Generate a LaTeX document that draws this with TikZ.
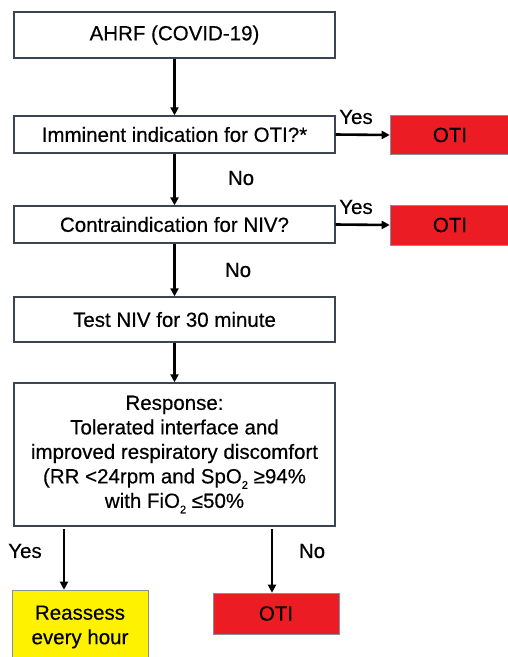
\documentclass[tikz,border=0pt]{standalone}
\usepackage{fontspec}
\setmainfont{Liberation Sans}[FakeBold=0.4]
\usetikzlibrary{arrows.meta}
\definecolor{boxline}{HTML}{3A4452}
\definecolor{otired}{HTML}{EB1C24}
\definecolor{reyellow}{HTML}{FFF200}
\newcommand{\sbt}[1]{\raisebox{-0.5ex}{\fontsize{11}{11}\selectfont #1}}
\begin{document}
\begin{tikzpicture}[x=1pt,y=-1pt,
  every node/.style={font=\fontsize{20.5}{24.5}\selectfont},
  box/.style={draw=boxline, line width=1.3pt, fill=white, inner sep=0pt,
    minimum width=321pt, align=center},
  redbox/.style={draw=boxline!60, line width=0.6pt, fill=otired, inner sep=0pt, align=center},
  yelbox/.style={draw=boxline!60, line width=0.6pt, fill=reyellow, inner sep=0pt, align=center},
  conn/.style={line width=2.6pt, -{Triangle[length=8pt,width=8pt]}},
  lbl/.style={inner sep=0pt}]
\useasboundingbox (0,0) rectangle (508,657);
\fill[white] (0,0) rectangle (508,657);
% main column
\node[box, minimum height=46pt] (ahrf) at (174.5,35) {AHRF (COVID-19)};
\node[box, minimum height=37pt] (imm) at (174.5,134.5) {Imminent indication for OTI?*};
\node[box, minimum height=37pt] (contra) at (174.5,224.5) {Contraindication for NIV?};
\node[box, minimum height=45pt] (test) at (174.5,319.5) {Test NIV for 30 minute};
\node[box, minimum height=143pt] (resp) at (174.5,454.5) {Response:\\Tolerated interface and\\improved respiratory discomfort\\(RR <24rpm and SpO\sbt{2} ≥94\%\\with FiO\sbt{2} ≤50\%};
% outcome boxes
\node[redbox, minimum width=120pt, minimum height=39pt] (oti1) at (450,135) {OTI};
\node[redbox, minimum width=120pt, minimum height=40pt] (oti2) at (450,225) {OTI};
\node[redbox, minimum width=126pt, minimum height=41pt] (oti3) at (276,613.5) {OTI};
\node[yelbox, minimum width=136pt, minimum height=74pt] (reas) at (80,627) {Reassess\\every hour};
% connectors
\draw[conn] (ahrf.south) -- (imm.north);
\draw[conn] (imm.south) -- (contra.north);
\draw[conn] (contra.south) -- (test.north);
\draw[conn] (test.south) -- (resp.north);
\draw[conn] (imm.east) -- (oti1.west);
\draw[conn] (contra.east) -- (oti2.west);
\coordinate (ry) at (64,529);
\coordinate (rn) at (272,529);
\draw[conn] (ry) -- (ry |- reas.north);
\draw[conn] (rn) -- (rn |- oti3.north);
% labels
\node[lbl] (y1) at (356,117) {Yes};
\node[lbl] (n1) at (241,178) {No};
\node[lbl] (y2) at (356,207) {Yes};
\node[lbl] (n2) at (238,270) {No};
\node[lbl] (y3) at (25,551) {Yes};
\node[lbl] (n3) at (312,551) {No};
\end{tikzpicture}
\end{document}
